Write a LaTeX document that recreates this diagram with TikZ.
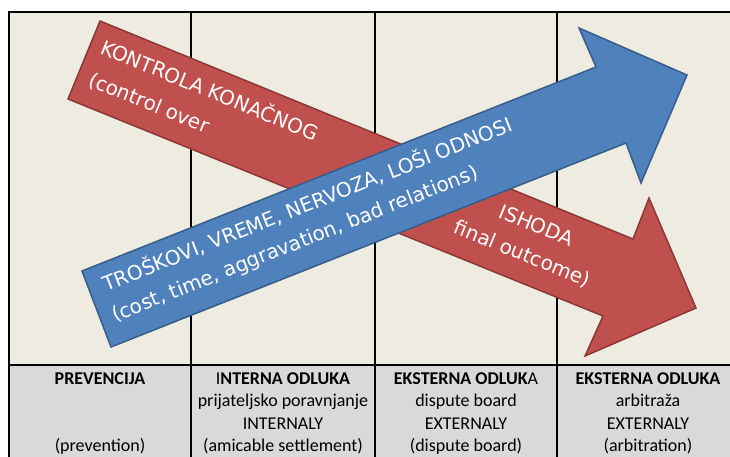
\documentclass[tikz,border=0pt]{standalone}
\usepackage{fontspec}
\newfontfamily\arrowfont{DejaVu Sans}
\newfontfamily\tabfont{Carlito}
\definecolor{panelbg}{HTML}{EEECE1}
\definecolor{rowbg}{HTML}{D9D9D9}
\definecolor{redfill}{HTML}{C0504D}
\definecolor{redline}{HTML}{8C3836}
\definecolor{bluefill}{HTML}{4F81BD}
\definecolor{blueline}{HTML}{385D8A}
\tikzset{
  arrowtext/.style={text=white, inner sep=0pt, font=\arrowfont\fontsize{20}{24}\selectfont},
  redshape/.style={fill=redfill, draw=redline, line width=1.5pt, line join=miter},
  blueshape/.style={fill=bluefill, draw=blueline, line width=1.5pt, line join=miter},
  celltext/.style={inner sep=0pt, anchor=base, font=\tabfont\fontsize{18}{22.5}\selectfont},
  gridline/.style={draw=black, line width=1.5pt},
  frameline/.style={draw=black, line width=2pt}
}
\begin{document}
\begin{tikzpicture}[x=1pt, y=-1pt]
\useasboundingbox (0,0) rectangle (730,456);
\clip (0,0) rectangle (730,456);

% table background: upper panel and lower label row
\fill[panelbg] (9,12) rectangle (745,364.5);
\fill[rowbg] (9,364.5) rectangle (745,470);

% column dividers
\draw[gridline, line width=1.2pt] (191,12) -- (191,470);
\draw[gridline] (375,12) -- (375,470);
\draw[gridline] (557,12) -- (557,470);
% frame and row divider
\draw[frameline] (745,12) -- (9,12) -- (9,470);
\draw[frameline] (9,364.5) -- (745,364.5);

% red arrow: control over the final outcome (falling)
\coordinate (r1) at (100,21);
\coordinate (r2) at (633,239);
\coordinate (r3) at (649,198);
\coordinate (r4) at (696,308);
\coordinate (r5) at (585,356);
\coordinate (r6) at (603,316);
\coordinate (r7) at (68,99);
\draw[redshape] (r1) -- (r2) -- (r3) -- (r4) -- (r5) -- (r6) -- (r7) -- cycle;

\node[arrowtext, anchor=base west, rotate=-22.2] (rt1) at (99,53) {KONTROLA KONAČNOG};
\node[arrowtext, anchor=base west, rotate=-22.2] (rt2) at (87,85) {(control over};
\node[arrowtext, anchor=base, rotate=-22.2] (rt3) at (534,232) {ISHODA};
\node[arrowtext, anchor=base, rotate=-22.2] (rt4) at (520,260) {final outcome)};

% blue arrow: costs, time, aggravation (rising)
\coordinate (b1) at (82,271);
\coordinate (b2) at (596,67);
\coordinate (b3) at (579,28);
\coordinate (b4) at (687,75);
\coordinate (b5) at (641,183);
\coordinate (b6) at (626,143);
\coordinate (b7) at (111,347);
\draw[blueshape] (b1) -- (b2) -- (b3) -- (b4) -- (b5) -- (b6) -- (b7) -- cycle;

\node[arrowtext, anchor=base west, rotate=21.6] (bt1) at (106,292) {TROŠKOVI, VREME, NERVOZA, LOŠI ODNOSI};
\node[arrowtext, anchor=base west, rotate=21.6] (bt2) at (115,322) {(cost, time, aggravation, bad relations)};

% column labels
\node[celltext] (c1a) at (100,384) {\bfseries PREVENCIJA};
\node[celltext] (c1d) at (100,451.5) {(prevention)};

\node[celltext] (c2a) at (283,384) {I\textbf{NTERNA ODLUKA}};
\node[celltext] (c2b) at (283,406.5) {prijateljsko poravnjanje};
\node[celltext] (c2c) at (283,429) {INTERNALY};
\node[celltext] (c2d) at (283,451.5) {(amicable settlement)};

\node[celltext] (c3a) at (466,384) {\textbf{EKSTERNA ODLUK}A};
\node[celltext] (c3b) at (466,406.5) {dispute board};
\node[celltext] (c3c) at (466,429) {EXTERNALY};
\node[celltext] (c3d) at (466,451.5) {(dispute board)};

\node[celltext] (c4a) at (648,384) {\bfseries EKSTERNA ODLUKA};
\node[celltext] (c4b) at (648,406.5) {arbitraža};
\node[celltext] (c4c) at (648,429) {EXTERNALY};
\node[celltext] (c4d) at (648,451.5) {(arbitration)};
\end{tikzpicture}
\end{document}
